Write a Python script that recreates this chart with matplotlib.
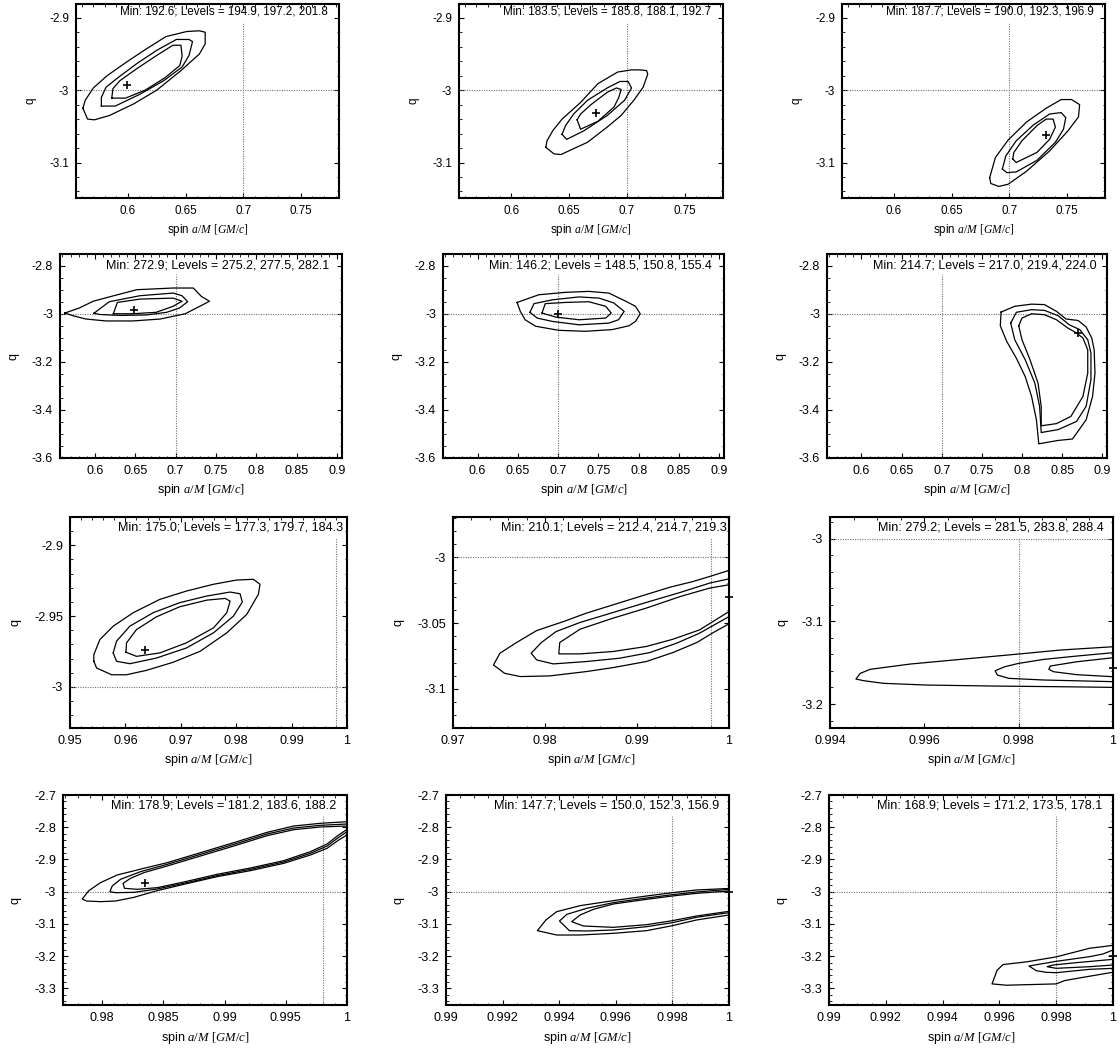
import matplotlib
matplotlib.use("Agg")
import matplotlib.pyplot as plt
from matplotlib.ticker import FixedLocator, FuncFormatter, AutoMinorLocator

plt.rcParams['font.family'] = ['Liberation Sans', 'DejaVu Sans']
plt.rcParams['axes.unicode_minus'] = False
plt.rcParams['mathtext.fontset'] = 'custom'
plt.rcParams['mathtext.it'] = 'Liberation Serif:italic'
plt.rcParams['mathtext.rm'] = 'Liberation Serif'

# chi2 minimum and the three contour levels printed in each panel
minima = [192.6, 183.5, 187.7, 272.9, 146.2, 214.7, 175.0, 210.1, 279.2, 178.9, 147.7, 168.9]
levels = [(194.9, 197.2, 201.8), (185.8, 188.1, 192.7), (190.0, 192.3, 196.9),
          (275.2, 277.5, 282.1), (148.5, 150.8, 155.4), (217.0, 219.4, 224.0),
          (177.3, 179.7, 184.3), (212.4, 214.7, 219.3), (281.5, 283.8, 288.4),
          (181.2, 183.6, 188.2), (150.0, 152.3, 156.9), (171.2, 173.5, 178.1)]

# input (true) values
true_spin = [0.7, 0.7, 0.7, 0.7, 0.7, 0.7, 0.998, 0.998, 0.998, 0.998, 0.998, 0.998]
true_q = -3.0

# best fit positions
best_fit = [(0.599, -2.993), (0.673, -3.032), (0.732, -3.062),
            (0.648, -2.986), (0.700, -3.000), (0.870, -3.080),
            (0.9636, -2.9736), (1.0, -3.0306), (1.0, -3.157),
            (0.9835, -2.974), (1.0, -3.002), (1.0, -3.2007)]

# contour lines (inner, middle, outer)
p1_in = [(0.586, -3.011), (0.598, -3.011), (0.615, -3.000), (0.632, -2.983), (0.645, -2.966), (0.647, -2.953),
         (0.646, -2.938), (0.639, -2.938), (0.625, -2.952), (0.608, -2.970), (0.593, -2.987), (0.587, -2.998)]
p1_mid = [(0.577, -3.022), (0.589, -3.022), (0.610, -3.006), (0.631, -2.987), (0.647, -2.968), (0.653, -2.952),
          (0.656, -2.933), (0.653, -2.930), (0.642, -2.930), (0.625, -2.945), (0.608, -2.963), (0.592, -2.982),
          (0.581, -2.996), (0.577, -3.010)]
p1_out = [(0.561, -3.025), (0.565, -3.040), (0.571, -3.041), (0.584, -3.035), (0.605, -3.019), (0.625, -3.000),
          (0.646, -2.973), (0.662, -2.950), (0.667, -2.936), (0.667, -2.920), (0.662, -2.918), (0.651, -2.919),
          (0.633, -2.926), (0.616, -2.943), (0.599, -2.961), (0.582, -2.980), (0.570, -2.997), (0.563, -3.014)]

p2_in = [(0.657, -3.041), (0.660, -3.054), (0.675, -3.043), (0.689, -3.023), (0.693, -3.010), (0.695, -2.999),
         (0.691, -2.997), (0.683, -3.003), (0.669, -3.020), (0.660, -3.033)]
p2_mid = [(0.644, -3.061), (0.648, -3.068), (0.663, -3.056), (0.683, -3.035), (0.698, -3.014), (0.704, -2.997),
          (0.701, -2.988), (0.694, -2.988), (0.683, -2.997), (0.666, -3.014), (0.654, -3.033), (0.647, -3.049)]
p2_out = [(0.630, -3.079), (0.637, -3.088), (0.643, -3.089), (0.666, -3.072), (0.683, -3.051), (0.695, -3.035),
          (0.706, -3.014), (0.714, -2.996), (0.718, -2.978), (0.717, -2.973), (0.711, -2.972), (0.704, -2.972),
          (0.692, -2.975), (0.675, -2.991), (0.660, -3.017), (0.644, -3.040), (0.636, -3.056), (0.631, -3.070)]

p3_in = [(0.703, -3.095), (0.706, -3.100), (0.724, -3.086), (0.735, -3.068), (0.740, -3.051), (0.738, -3.040),
         (0.732, -3.040), (0.724, -3.049), (0.711, -3.070), (0.704, -3.086)]
p3_mid = [(0.694, -3.109), (0.698, -3.114), (0.706, -3.113), (0.724, -3.097), (0.740, -3.072), (0.747, -3.054),
          (0.749, -3.038), (0.745, -3.031), (0.735, -3.033), (0.721, -3.048), (0.706, -3.070), (0.697, -3.091)]
p3_out = [(0.683, -3.121), (0.684, -3.129), (0.691, -3.133), (0.699, -3.130), (0.715, -3.112), (0.735, -3.084),
          (0.751, -3.056), (0.760, -3.037), (0.761, -3.020), (0.754, -3.013), (0.745, -3.013), (0.732, -3.025),
          (0.715, -3.044), (0.699, -3.069), (0.688, -3.093)]

p4_in = [(0.623, -3.000), (0.628, -2.953), (0.656, -2.939), (0.697, -2.935), (0.708, -2.948), (0.697, -2.969),
         (0.676, -2.994), (0.647, -3.000)]
p4_mid = [(0.599, -2.998), (0.618, -2.950), (0.656, -2.925), (0.697, -2.914), (0.708, -2.925), (0.715, -2.950),
          (0.705, -2.976), (0.689, -2.994), (0.664, -3.005), (0.631, -3.007), (0.606, -3.003)]
p4_out = [(0.563, -2.997), (0.581, -2.976), (0.598, -2.948), (0.618, -2.930), (0.652, -2.900), (0.697, -2.893),
          (0.722, -2.893), (0.732, -2.928), (0.742, -2.948), (0.730, -2.969), (0.712, -3.000), (0.681, -3.022),
          (0.647, -3.030), (0.614, -3.030), (0.589, -3.022), (0.573, -3.008)]

p5_in = [(0.680, -2.997), (0.684, -2.958), (0.709, -2.953), (0.738, -2.950), (0.759, -2.969), (0.766, -2.997),
         (0.759, -3.018), (0.726, -3.025), (0.697, -3.014)]
p5_mid = [(0.665, -2.994), (0.670, -2.958), (0.693, -2.942), (0.726, -2.930), (0.751, -2.935), (0.769, -2.955),
          (0.782, -2.990), (0.775, -3.025), (0.763, -3.039), (0.726, -3.046), (0.693, -3.032), (0.674, -3.018)]
p5_out = [(0.649, -2.953), (0.676, -2.921), (0.709, -2.911), (0.738, -2.907), (0.763, -2.914), (0.784, -2.948),
          (0.796, -2.969), (0.802, -3.000), (0.796, -3.032), (0.788, -3.050), (0.767, -3.066), (0.734, -3.073),
          (0.701, -3.069), (0.672, -3.052), (0.659, -3.025), (0.653, -2.990)]

p6_in = [(0.796, -3.050), (0.800, -3.108), (0.810, -3.191), (0.820, -3.288), (0.824, -3.385), (0.824, -3.466),
         (0.843, -3.457), (0.861, -3.427), (0.876, -3.344), (0.882, -3.247), (0.882, -3.150), (0.876, -3.101),
         (0.868, -3.080), (0.857, -3.059), (0.843, -3.025), (0.828, -3.004), (0.812, -3.000), (0.800, -3.018)]
p6_mid = [(0.786, -3.039), (0.791, -3.108), (0.804, -3.191), (0.816, -3.288), (0.822, -3.385), (0.824, -3.494),
          (0.845, -3.482), (0.868, -3.448), (0.880, -3.385), (0.886, -3.274), (0.886, -3.163), (0.882, -3.108),
          (0.872, -3.066), (0.859, -3.046), (0.845, -3.008), (0.828, -2.986), (0.812, -2.983), (0.793, -2.994)]
p6_out = [(0.774, -2.993), (0.773, -3.050), (0.781, -3.115), (0.793, -3.185), (0.804, -3.261), (0.812, -3.344),
          (0.818, -3.441), (0.821, -3.541), (0.845, -3.527), (0.863, -3.521), (0.880, -3.441), (0.888, -3.344),
          (0.891, -3.247), (0.890, -3.150), (0.887, -3.101), (0.880, -3.055), (0.870, -3.028), (0.855, -3.022),
          (0.843, -2.990), (0.828, -2.962), (0.812, -2.960), (0.791, -2.969)]

p7_in = [(0.9601, -2.9755), (0.9620, -2.9784), (0.9662, -2.9760), (0.9710, -2.9689), (0.9759, -2.9583),
         (0.9783, -2.9476), (0.9789, -2.9394), (0.9780, -2.9375), (0.9747, -2.9387), (0.9698, -2.9434),
         (0.9656, -2.9505), (0.9620, -2.9595), (0.9602, -2.9689)]
p7_mid = [(0.9578, -2.9760), (0.9584, -2.9819), (0.9608, -2.9836), (0.9656, -2.9796), (0.9710, -2.9725),
          (0.9759, -2.9618), (0.9795, -2.9500), (0.9811, -2.9401), (0.9807, -2.9342), (0.9789, -2.9330),
          (0.9747, -2.9358), (0.9698, -2.9405), (0.9650, -2.9476), (0.9608, -2.9571), (0.9584, -2.9677)]
p7_out = [(0.9543, -2.9819), (0.9548, -2.9866), (0.9575, -2.9914), (0.9602, -2.9914), (0.9638, -2.9883),
          (0.9686, -2.9826), (0.9735, -2.9748), (0.9783, -2.9618), (0.9819, -2.9488), (0.9840, -2.9346),
          (0.9843, -2.9275), (0.9831, -2.9240), (0.9801, -2.9245), (0.9759, -2.9275), (0.9710, -2.9323),
          (0.9662, -2.9382), (0.9614, -2.9476), (0.9578, -2.9571), (0.9554, -2.9665), (0.9543, -2.9772)]

p8_in = [(1.0, -3.0210), (0.9979, -3.0235), (0.9947, -3.0299), (0.9910, -3.0387), (0.9874, -3.0463),
         (0.9838, -3.0547), (0.9816, -3.0648), (0.9815, -3.0734), (0.9838, -3.0734), (0.9874, -3.0716),
         (0.9910, -3.0678), (0.9939, -3.0623), (0.9968, -3.0552), (1.0, -3.0413)]
p8_mid = [(1.0, -3.0165), (0.9979, -3.0197), (0.9947, -3.0268), (0.9910, -3.0344), (0.9874, -3.0420),
          (0.9838, -3.0496), (0.9812, -3.0565), (0.9796, -3.0648), (0.9785, -3.0729), (0.9791, -3.0780),
          (0.9809, -3.0810), (0.9845, -3.0792), (0.9881, -3.0767), (0.9914, -3.0724), (0.9943, -3.0653),
          (0.9968, -3.0577), (1.0, -3.0451)]
p8_out = [(1.0, -3.0101), (0.9979, -3.0147), (0.9961, -3.0185), (0.9936, -3.0228), (0.9903, -3.0299),
          (0.9874, -3.0362), (0.9845, -3.0425), (0.9820, -3.0489), (0.9791, -3.0557), (0.9769, -3.0648),
          (0.9751, -3.0729), (0.9744, -3.0818), (0.9756, -3.0881), (0.9773, -3.0906), (0.9805, -3.0901),
          (0.9845, -3.0868), (0.9874, -3.0838), (0.9910, -3.0792), (0.9939, -3.0724), (0.9965, -3.0648),
          (0.9983, -3.0572), (1.0, -3.0506)]

p9_in = [(1.0, -3.1441), (0.99924, -3.1489), (0.99867, -3.1541), (0.99864, -3.1581), (0.99874, -3.1610),
         (0.99924, -3.1646), (1.0, -3.1670)]
p9_mid = [(1.0, -3.1380), (0.99924, -3.1420), (0.99853, -3.1461), (0.998, -3.1509), (0.99771, -3.1549),
          (0.9975, -3.1598), (0.99755, -3.1650), (0.99779, -3.1690), (0.99853, -3.1710), (1.0, -3.1730)]
p9_out = [(1.0, -3.1308), (0.99888, -3.1348), (0.998, -3.1396), (0.99676, -3.1461), (0.9957, -3.1517),
          (0.99485, -3.1581), (0.99464, -3.1630), (0.99455, -3.1698), (0.99471, -3.1718), (0.99513, -3.1750),
          (0.99605, -3.1771), (0.99747, -3.1783), (0.99888, -3.1791), (1.0, -3.1799)]

p10_in = [(1.0, -2.7962), (0.99782, -2.7993), (0.99565, -2.8076), (0.99347, -2.8262), (0.99075, -2.8583),
          (0.98803, -2.8893), (0.98531, -2.9203), (0.9834, -2.9410), (0.98231, -2.9586), (0.98171, -2.9741),
          (0.98182, -2.9896), (0.98286, -2.9927), (0.98449, -2.9876), (0.98667, -2.9700), (0.98939, -2.9462),
          (0.99211, -2.9265), (0.99483, -2.9038), (0.99701, -2.8758), (0.99837, -2.8520), (0.99932, -2.8241),
          (1.0, -2.8065)]
p10_mid = [(1.0, -2.7900), (0.99782, -2.7941), (0.99565, -2.8024), (0.99347, -2.8210), (0.99075, -2.8531),
           (0.98803, -2.8841), (0.98531, -2.9152), (0.98313, -2.9379), (0.98150, -2.9617), (0.98082, -2.9824),
           (0.98063, -3.0000), (0.98109, -3.0031), (0.98259, -3.0021), (0.98449, -2.9917), (0.98667, -2.9741),
           (0.98939, -2.9503), (0.99211, -2.9307), (0.99483, -2.9079), (0.99701, -2.8810), (0.99837, -2.8583),
           (0.99932, -2.8314), (1.0, -2.8138)]
p10_out = [(1.0, -2.7828), (0.99782, -2.7879), (0.99565, -2.7962), (0.99347, -2.8159), (0.99075, -2.8479),
           (0.98803, -2.8790), (0.98531, -2.9100), (0.9834, -2.9276), (0.98122, -2.9483), (0.97986, -2.9721),
           (0.97891, -2.9969), (0.97837, -3.0227), (0.97872, -3.0290), (0.97986, -3.0310), (0.98109, -3.0290),
           (0.98259, -3.0176), (0.98449, -2.9969), (0.98667, -2.9772), (0.98939, -2.9534), (0.99211, -2.9348),
           (0.99483, -2.9121), (0.99701, -2.8862), (0.99837, -2.8655), (0.99932, -2.8397), (1.0, -2.8241)]

p11_in = [(1.0, -2.9979), (0.99885, -3.0052), (0.998, -3.0134), (0.99709, -3.0238), (0.99591, -3.0383),
          (0.99521, -3.0548), (0.99474, -3.0724), (0.99444, -3.0931), (0.99485, -3.1065), (0.99591, -3.1107),
          (0.99709, -3.1024), (0.998, -3.0900), (0.99885, -3.0755), (1.0, -3.0610)]
p11_mid = [(1.0, -2.9928), (0.99885, -3.0010), (0.998, -3.0093), (0.99709, -3.0196), (0.99591, -3.0341),
           (0.99497, -3.0517), (0.99427, -3.0703), (0.99401, -3.0910), (0.99436, -3.1210), (0.99497, -3.1220),
           (0.99591, -3.1189), (0.99709, -3.1086), (0.998, -3.0962), (0.99885, -3.0796), (1.0, -3.0652)]
p11_out = [(1.0, -2.9900), (0.99885, -2.9948), (0.998, -3.0031), (0.99709, -3.0134), (0.99591, -3.0279),
           (0.99474, -3.0434), (0.99391, -3.0621), (0.99353, -3.0879), (0.99323, -3.1210), (0.99391, -3.1345),
           (0.99474, -3.1345), (0.99591, -3.1293), (0.99709, -3.1210), (0.998, -3.1055), (0.99885, -3.0879),
           (1.0, -3.0724)]

p12_in = [(1.0, -3.2100), (0.99871, -3.2203), (0.99789, -3.2276), (0.99768, -3.2328), (0.998, -3.2379),
          (0.99918, -3.2328), (1.0, -3.2276)]
p12_mid = [(1.0, -3.1810), (0.99965, -3.1934), (0.99918, -3.2017), (0.998, -3.2162), (0.99704, -3.2307),
           (0.9973, -3.2452), (0.99765, -3.2503), (0.998, -3.2514), (0.99918, -3.2410), (1.0, -3.2379)]
p12_out = [(1.0, -3.1662), (0.99977, -3.1693), (0.99918, -3.1755), (0.998, -3.2024), (0.99695, -3.2179),
           (0.99613, -3.2262), (0.99592, -3.2438), (0.99574, -3.2862), (0.99624, -3.2903), (0.998, -3.2862),
           (0.9983, -3.2759), (0.99883, -3.2676), (1.0, -3.2500)]

contours = [(p1_in, p1_mid, p1_out), (p2_in, p2_mid, p2_out), (p3_in, p3_mid, p3_out),
            (p4_in, p4_mid, p4_out), (p5_in, p5_mid, p5_out), (p6_in, p6_mid, p6_out),
            (p7_in, p7_mid, p7_out), (p8_in, p8_mid, p8_out), (p9_in, p9_mid, p9_out),
            (p10_in, p10_mid, p10_out), (p11_in, p11_mid, p11_out), (p12_in, p12_mid, p12_out)]
closed = [True] * 7 + [False] * 5

# axis ranges and ticks
xlims = [(0.555, 0.783)] * 3 + [(0.557, 0.906)] * 3 + [(0.95, 1.0), (0.97, 1.0), (0.994, 1.0),
                                                       (0.9768, 1.0), (0.99, 1.0), (0.99, 1.0)]
ylims = [(-3.149, -2.881)] * 3 + [(-3.6, -2.7515)] * 3 + [(-3.029, -2.88), (-3.1296, -2.9696), (-3.229, -2.974)] \
    + [(-3.3517, -2.7)] * 3
xticks = [[0.6, 0.65, 0.7, 0.75]] * 3 + [[0.6, 0.65, 0.7, 0.75, 0.8, 0.85, 0.9]] * 3 \
    + [[0.95, 0.96, 0.97, 0.98, 0.99, 1.0], [0.97, 0.98, 0.99, 1.0], [0.994, 0.996, 0.998, 1.0],
       [0.98, 0.985, 0.99, 0.995, 1.0], [0.99, 0.992, 0.994, 0.996, 0.998, 1.0],
       [0.99, 0.992, 0.994, 0.996, 0.998, 1.0]]
yticks = [[-2.9, -3.0, -3.1]] * 3 + [[-2.8, -3.0, -3.2, -3.4, -3.6]] * 3 \
    + [[-2.9, -2.95, -3.0], [-3.0, -3.05, -3.1], [-3.0, -3.1, -3.2]] \
    + [[-2.7, -2.8, -2.9, -3.0, -3.1, -3.2, -3.3]] * 3

# panel frames in pixels: left, top, right, bottom
W, H = 1120, 1048
frames = [(76, 4, 339, 198), (459, 4, 723, 198), (842, 4, 1105, 198),
          (60, 254, 342, 458), (443, 254, 724, 458), (827, 254, 1107, 458),
          (70, 517, 347, 728), (453, 517, 729, 728), (830, 517, 1113, 728),
          (63, 795, 347, 1005), (446, 795, 729, 1005), (829, 795, 1113, 1005)]
# per row: font size, label offset from left (px), label offset from top (px)
row_font = [8.4, 9.0, 9.1, 9.1]
row_lab_x = [44, 46, 48, 48]
row_lab_y = [8, 11, 11, 10]

fig = plt.figure(figsize=(W / 100, H / 100), dpi=100)
fmt = FuncFormatter(lambda v, p: '%g' % round(v, 6))

for i in range(12):
    l, t, r, b = frames[i]
    row = i // 3
    fs = row_font[row]
    ax = fig.add_axes([l / W, 1 - b / H, (r - l) / W, (b - t) / H])

    ax.axhline(true_q, color='0.45', lw=0.8, ls=(0, (1, 1.2)))
    ax.axvline(true_spin[i], ymax=0.9, color='0.45', lw=0.8, ls=(0, (1, 1.2)))

    for pts in contours[i]:
        xs = [p[0] for p in pts]
        ys = [p[1] for p in pts]
        if closed[i]:
            xs.append(xs[0])
            ys.append(ys[0])
        ax.plot(xs, ys, color='black', lw=0.9)

    ax.plot(best_fit[i][0], best_fit[i][1], ls='none', marker='+', color='black',
            ms=5.5, mew=1.2, clip_on=False, zorder=5)

    ax.set_xlim(*xlims[i])
    ax.set_ylim(*ylims[i])
    ax.xaxis.set_major_locator(FixedLocator(xticks[i]))
    ax.yaxis.set_major_locator(FixedLocator(yticks[i]))
    ax.xaxis.set_major_formatter(fmt)
    ax.yaxis.set_major_formatter(fmt)
    ax.xaxis.set_minor_locator(AutoMinorLocator())
    ax.yaxis.set_minor_locator(AutoMinorLocator())
    ax.tick_params(which='both', direction='in', top=True, right=True, labelsize=fs)
    ax.tick_params(which='major', length=3.5, width=0.8, pad=5)
    ax.tick_params(which='minor', length=1.8, width=0.6)
    for s in ax.spines.values():
        s.set_linewidth(1.5)

    ax.set_xlabel(r'spin $a/M$ $[GM/c]$', fontsize=fs, labelpad=4)
    ax.set_ylabel('q', fontsize=fs, labelpad=9)

    lv = levels[i]
    label = 'Min: %.1f; Levels = %.1f, %.1f, %.1f' % (minima[i], lv[0], lv[1], lv[2])
    ax.text(row_lab_x[row] / (r - l), 1 - row_lab_y[row] / (b - t), label, transform=ax.transAxes,
            ha='left', va='center', fontsize=fs, zorder=6)

fig.savefig('out.png', dpi=100)
